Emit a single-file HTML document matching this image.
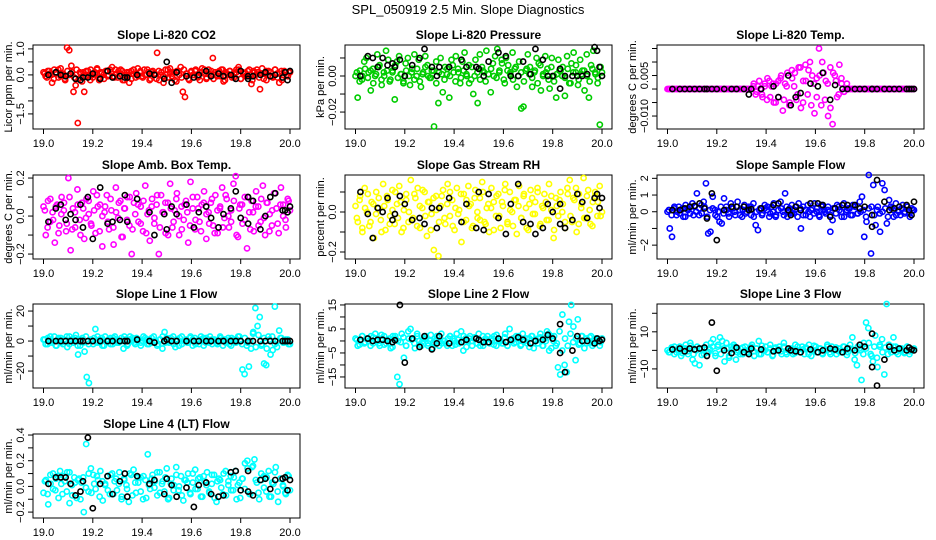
<!DOCTYPE html>
<html><head><meta charset="utf-8">
<style>
body{margin:0;background:#fff;}
svg{display:block;font-family:"Liberation Sans",Arial,sans-serif;}
</style></head>
<body>
<svg id="chart" width="936" height="540" viewBox="0 0 936 540">
<text x="468" y="14" text-anchor="middle" font-size="13">SPL_050919  2.5 Min. Slope Diagnostics</text>
</svg>
<script>
// Shared sampling times of the black (highlighted) points
const blackTimes = [19.02,19.05,19.07,19.09,19.11,19.13,19.15,19.16,19.18,19.2,19.23,19.26,19.28,19.31,19.33,19.34,19.38,19.43,19.45,19.49,19.5,19.52,19.54,19.58,19.61,19.63,19.66,19.68,19.71,19.73,19.76,19.78,19.8,19.83,19.83,19.85,19.88,19.9,19.92,19.94,19.97,19.98,19.99,20.0];
const xTicks = [19.0,19.2,19.4,19.6,19.8,20.0];
const xTickLabels = ["19.0","19.2","19.4","19.6","19.8","20.0"];

const co2Vals = [0.1,-0.05,0.15,0.05,-0.3,0.2,0.1,-0.1,0.25,0,-0.15,1.05,0.95,0.35,-0.65,-0.4,-1.85,0.1,-0.25,-0.65,0.15,0,0.2,-0.1,0.05,0.25,-0.2,0.1,0,0.15,-0.05,0.2,0.3,-0.1,0.05,0.15,0.2,-0.2,0,0.1,-0.3,0.15,0.05,-0.1,0.25,0.1,-0.05,0.2,0,0.1,-0.15,0.15,0.05,0.85,-0.2,0.1,-0.3,0,0.2,0.25,-0.05,0.1,-0.25,0.15,0.3,-0.65,-0.85,0.05,-0.2,0.15,0,0.2,-0.1,0.1,0.25,0.05,-0.15,0.2,0,0.65,0.1,-0.05,0.15,0.2,-0.25,0.1,0,0.15,-0.1,0.05,0.2,0.3,-0.15,0.1,0.05,-0.05,0.2,-0.35,0.15,0,0.1,-0.55,0.25,0.05,-0.2,0.15,0.1,-0.1,0.2,0.05,-0.3,0.15,0,0.1,-0.05,0.1];
const co2Core = [0.05,-0.1,0.15,0,-0.15,0.1,0.2,-0.05,0.05,-0.2,0.15,0,0.1,-0.1,0.2,-0.15,0.05,0.1,-0.05,0.15,-0.2,0,0.1,0.2,-0.1,0.05,-0.15,0.15,0,0.1,-0.05,0.2,-0.1,0.05,0.15,-0.2,0,0.1,-0.15,0.2,0.05,-0.05,0.15,-0.1,0,0.2,-0.2,0.1,0.05,-0.15,0.15,0,-0.05,0.2,-0.1,0.1,0.05,-0.2,0.15,0,-0.1,0.2,0.05,-0.15,0.1,0,0.15,-0.05,-0.2,0.1,0.2,-0.1,0.05,0.15,-0.15,0,0.1,-0.05,0.2,-0.2,0.05,0.15,0,-0.1,0.1,0.2,-0.15,0.05,-0.05,0.15,0,-0.2,0.1,0.2,-0.1,0.05,-0.15,0.15,0,0.1,-0.05,0.2,-0.1,0.05,-0.2,0.15,0,0.1];
const co2Black = [0,0.1,0,-0.05,0.05,-0.15,-0.2,-0.1,-0.1,0.05,-0.15,0.15,-0.1,-0.05,-0.1,-0.1,0,0.05,0,-0.15,0.5,-0.3,0.1,-0.05,-0.1,0,0.15,-0.05,0.05,-0.05,0,-0.15,0.15,-0.05,-0.15,-0.05,0,0.1,-0.05,0,-0.1,0.1,-0.2,0.15];

const presVals = [0,-0.012,0.003,-0.002,0.008,0.01,0.002,-0.008,0.004,0,0.012,0.006,-0.005,0.002,0.014,0.009,-0.002,0.003,-0.013,0.008,0.011,0.001,-0.003,0.007,0.01,-0.005,0.004,0.012,0,0.009,-0.006,0.002,0.011,0.006,-0.001,0.003,-0.028,0.008,-0.015,0.01,-0.009,0.005,0.001,-0.012,0.009,0.002,0.011,0.004,-0.004,0.008,0.013,0,0.006,-0.002,-0.01,0.009,-0.015,0.012,0.005,0.002,0.014,0.001,-0.009,0.007,0.011,0.015,0.003,0.009,-0.002,0.01,0.006,0.002,0.013,0.004,-0.006,0.008,-0.018,-0.017,0.003,0.012,0.005,-0.006,0.002,0.01,0.007,-0.008,0.001,0.011,0.004,-0.007,0.01,0,-0.012,0.009,0.003,0.005,-0.011,0.011,-0.004,0.007,0.013,0.002,-0.005,0.009,0.003,-0.008,0.012,-0.012,0.006,0.014,0.001,-0.004,-0.027,0.002];
const presCore = [0.002,-0.003,0,0.004,-0.001,0.003,-0.004,0.001,0.005,-0.002,0,0.003,-0.003,0.002,0.006,-0.001,0.001,-0.004,0.003,0,0.002,-0.002,0.004,-0.003,0.001,0.005,0,-0.001,0.003,-0.004,0.002,0.001,-0.002,0.004,0,0.006,-0.003,0.002,-0.001,0.003,0.001,-0.004,0.005,0,0.002,-0.002,0.003,-0.003,0.001,0.004,0,-0.001,0.002,0.007,-0.004,0.003,0.001,-0.002,0.005,0,0.002,-0.003,0.004,0.001,-0.001,0.003,-0.004,0.006,0,0.002,-0.002,0.005,-0.003,0.001,0.003,0,-0.001,0.004,-0.004,0.002,0.006,-0.002,0.001,0.003,0,-0.003,0.004,0.002,-0.001,0.005];
const presBlack = [0,0.011,0.01,0.005,0.01,0.006,0.007,0.005,0.009,0,0.006,0.01,0.015,0.005,0,0.005,0.005,0.009,0.005,0.005,0.004,0,0.008,0.013,0.011,0,0,0.008,0.001,0.015,0.009,0,0,0.004,-0.007,0,0,0,0,0.001,0.016,0.014,0.005,0];

const tempVals = [0,0,0,0,0,0,0,0,0,0,0,0,0,0,0,0,0,0,0,0,0,0,0,0,0,0,0,0,0,0,0,0,0,0,0,0,0,0,
0.001,-0.002,0.001,0,-0.003,0.002,-0.004,0.003,0.001,-0.005,0.002,-0.003,0.004,-0.008,0.002,0.006,-0.005,0.007,0.001,-0.004,0.008,-0.007,0.003,0.009,-0.002,0.01,0.005,-0.009,0.004,0.015,-0.006,0.006,0.003,-0.01,0.008,-0.013,0.005,-0.003,0.009,0.002,-0.001,
0,0,0,0,0,0,0,0,0,0,0,0,0,0,0,0,0,0,0,0,0,0,0,0,0,0,0,0,0,0,0];
const tempCore = [0,0,0,0,0,0,0,0,0,0,0,0,0,0,0,0,0,0,0,0,0,0,0,0,0,0,0,0,0,0,0,
0.002,-0.001,0.003,-0.002,0.001,0.004,-0.003,0.002,-0.005,0.003,0.005,-0.004,0.001,-0.006,0.004,0.006,-0.002,0.008,-0.005,0.003,0.007,-0.006,0.002,-0.003,0.005,0.01,-0.004,0.002,-0.007,0.006,0.003,-0.002,0.004,-0.001,0.002,
0,0,0,0,0,0,0,0,0,0,0,0,0,0,0,0,0,0,0,0,0,0,0,0];
const tempBlack = [0,0,0,0,0,0,0,0,0,0,0,0,0,0,-0.002,0,0,0.001,-0.003,0.005,-0.006,-0.003,-0.0015,0.002,0.001,0.006,-0.004,0.0015,0,0,0,0,0,0,0,0,0,0,0,0,0,0,0,0];

const ambVals = [0.05,-0.1,0.08,-0.03,0.02,-0.14,0.06,-0.05,0.1,0.03,-0.08,0.2,-0.18,0.04,-0.06,0.14,-0.02,0.07,-0.12,0.09,0.01,-0.04,0.13,-0.09,0.05,0.06,-0.16,0.02,0.11,-0.07,0.03,-0.15,0.15,-0.01,0.08,-0.11,0.04,0.1,-0.05,-0.2,0.07,0.12,-0.03,0.05,-0.08,0.16,0.01,-0.13,0.09,-0.04,0.06,-0.2,0.11,0.02,-0.09,0.07,0.17,-0.06,0.03,0.12,-0.1,0.05,-0.02,0.08,-0.14,0.18,0.04,-0.07,0.1,-0.03,0.06,0.13,-0.12,0.02,0.07,-0.05,0.11,-0.09,0.04,0.15,-0.01,0.09,-0.06,0.03,0.17,0.21,-0.11,0.06,-0.04,0.1,-0.17,0.02,0.08,-0.08,0.13,0.05,-0.03,0.16,-0.1,0.07,0.01,-0.05,0.12,0.04,-0.09,0.15,0.06,-0.02,0.09,0.03];
const ambCore = [0.03,-0.06,0.09,-0.02,0.05,-0.09,0.01,0.07,-0.04,0.1,-0.07,0.02,0.06,-0.1,0.04,-0.01,0.08,-0.05,0.03,0.11,-0.08,0,0.05,-0.03,0.09,-0.06,0.02,0.07,-0.11,0.04,-0.02,0.1,-0.07,0.01,0.06,-0.04,0.08,-0.09,0.03,0.05,-0.01,0.11,-0.06,0.02,0.07,-0.1,0.04,-0.03,0.09,0,-0.07,0.06,0.02,-0.05,0.1,-0.02,0.04,-0.08,0.07,0.01,-0.04,0.09,-0.09,0.03,0.05,-0.06,0.11,0,-0.03,0.08,-0.1,0.04,0.06,-0.02,0.1,-0.07,0.02,0.05,-0.05,0.09,-0.01,0.07,-0.08,0.03,0.12,-0.04,0.06,0,-0.06,0.08];
const ambBlack = [-0.03,0.04,0.06,-0.02,0.01,-0.02,0.06,-0.06,0.1,-0.12,0.15,-0.04,-0.03,-0.02,0.11,-0.03,0.09,0.02,-0.1,0.01,-0.07,0.05,0.01,0.06,-0.06,0.02,0.05,-0.01,-0.06,0.01,0.04,0.13,-0.01,0.1,-0.04,0.08,-0.07,0,0.1,0.12,0.03,0.03,0.02,0.05];

const rhVals = [0.03,-0.05,0.08,-0.1,0.12,0,-0.07,0.05,-0.13,0.1,0.02,-0.04,0.14,-0.09,0.06,-0.02,0.11,-0.06,0.04,0.13,-0.1,0.01,0.09,-0.05,0.16,-0.03,0.07,0.12,-0.08,0.02,0.1,-0.12,0.05,-0.01,-0.19,0.08,-0.22,0.03,0.11,-0.06,0.14,-0.02,0.06,-0.09,0.12,0.01,-0.15,0.09,-0.04,0.13,0.04,-0.07,0.11,-0.03,0.07,0.15,-0.05,0.02,-0.1,0.12,0.05,-0.02,0.09,-0.08,0.03,0.14,-0.06,0.1,0,0.06,-0.11,0.13,-0.03,0.08,0.02,-0.09,0.11,-0.01,0.05,0.12,-0.07,0.03,0.09,-0.04,0.14,0.01,-0.13,0.07,-0.02,0.1,0.04,-0.08,0.12,0.16,-0.05,0.06,-0.1,0.09,0.02,0.17,-0.03,0.11,-0.06,0.05,0.08,-0.02,0.13,0];
const rhCore = [-0.03,0.06,-0.08,0.02,0.09,-0.05,0.04,-0.01,0.07,-0.1,0.03,0.08,-0.06,0.01,0.1,-0.03,0.05,-0.08,0.06,0,-0.04,0.09,-0.07,0.03,0.11,-0.02,0.05,-0.09,0.07,0.01,-0.05,0.08,-0.03,0.04,0.1,-0.07,0.02,-0.01,0.09,-0.05,0.06,0.03,-0.08,0.07,0,-0.04,0.1,-0.06,0.04,0.02,-0.09,0.08,-0.02,0.05,0.11,-0.05,0.01,-0.07,0.06,0.03,-0.03,0.09,-0.08,0.04,0.07,-0.01,0.1,-0.06,0.02,0.05,-0.04,0.08,-0.09,0.03,0.06,0,-0.05,0.09,-0.02,0.07,0.12,-0.06,0.04,-0.03,0.08,0.01,-0.07,0.1,0.05,-0.02];
const rhBlack = [0.1,-0.01,-0.13,0.02,0,0.07,-0.04,-0.01,0.08,0.04,-0.04,-0.03,-0.06,0.02,-0.08,0.02,0.07,-0.05,0.04,-0.08,0.1,-0.09,0.09,-0.03,-0.11,0.04,0.14,-0.05,-0.06,-0.11,-0.08,0.04,0,0.04,-0.06,-0.08,-0.04,0.09,0.05,-0.03,0.07,0.09,0.02,0.07];

const sampleVals = [0,-1,-1.5,0.2,-0.2,0.3,0.1,-0.3,0.4,0.2,-0.1,0.5,0.3,1.1,-0.2,0.4,0.6,1.7,-1.3,-1.2,0.9,0.1,-0.3,-0.6,-0.7,0.8,0.3,-0.1,0.5,0.2,-0.2,0.6,0.1,-0.3,0.4,0,0.3,-0.2,0.5,-0.8,-1.1,0.2,-0.1,0.4,0.1,-0.3,0.3,0.5,-0.2,0.1,0.6,0,1.1,-0.3,0.2,0.4,-0.1,0.3,0.5,-1,-0.2,0.1,0.4,-0.3,0.2,0.5,0,-0.2,0.4,0.1,-0.1,0.3,-1.2,-0.5,0.2,0.4,0.1,-0.3,0.5,0,0.2,-0.2,0.4,0.3,-0.1,0.6,0.9,-1.5,-0.6,2.2,-2.5,1.6,-0.8,0.3,-1.2,1.7,1.3,-0.7,0.7,0.2,-0.3,0.5,0.1,-0.2,0.4,0,0.3,-0.1,0.2,0.1];
const sampleCore = [0.1,-0.2,0.3,0,-0.1,0.2,-0.3,0.1,0.3,-0.2,0,0.2,-0.1,0.3,-0.3,0.1,0.2,-0.2,0,0.3,-0.1,0.1,-0.3,0.2,0,0.3,-0.2,0.1,-0.1,0.2,0.3,-0.3,0,0.1,-0.2,0.2,0.3,-0.1,0,-0.3,0.1,0.2,-0.2,0.3,0,-0.1,0.1,-0.3,0.2,0.3,-0.2,0,0.1,-0.1,0.2,-0.3,0.3,0,0.1,-0.2,0.2,-0.1,0.3,0,-0.3,0.1,0.2,-0.2,0.3,-0.1,0,0.1,-0.3,0.2,0.3,-0.2,0.1,-0.1,0,0.2,-0.3,0.3,0.1,-0.2,0,0.2,-0.1,0.3,-0.3,0.1];
const sampleBlack = [0.1,0.1,0.2,0.3,0.35,0.5,0.2,-0.4,1.1,-1.7,0.1,0.3,0.3,0.3,0.1,0.15,0.2,0.4,0.5,0.1,-0.2,0.3,0.1,0.5,0.5,0.4,-0.3,0.2,0.4,0.4,0.4,0.2,0.3,-0.9,-0.2,1.9,0.6,0.1,0.2,0.3,0.4,0.1,-0.2,0.6];

const line1Vals = [1,-2,2,0,-1,3,-3,1,2,-2,0,-4,3,1,-1,4,-9,-3,2,-7,-24,-28,1,-2,8,3,-1,2,-3,0,1,2,-2,3,-1,0,2,-5,1,-2,3,0,-1,2,1,-3,0,2,-2,1,-1,3,0,-2,1,-5,6,2,-1,0,3,-4,1,2,-2,0,1,-1,3,-3,2,0,-2,1,2,-1,0,3,-2,1,-1,0,2,-3,1,0,-2,2,1,-1,3,0,-19,-22,-3,-17,-5,6,22,10,16,-2,-15,-16,3,-9,-6,23,-4,7,2,-1,0,1,-2];
const line1Core = [1,-2,3,0,-3,2,-1,1,3,-2,0,2,-3,1,-1,3,-2,0,2,-1,1,-3,3,0,-2,2,1,-1,0,3,-3,1,2,-2,0,-1,3,1,-2,2,0,-3,1,3,-1,0,2,-2,1,-3,3,0,-1,2,1,-2,0,3,-3,2,-1,1,0,-2,3,1,-1,2,-3,0,1,3,-2,2,-1,0,5,-4,4,-3,2,-5,1,3,-2,0,2,-1,1,-2];
const line1Black = [0,0,0,0,0,0,0,0,0,0,0,0,0,0,0,0,1,0,-1,0,1,0,0,0,0,0,0,0,0,0,0,0,0,0,0,0,0,0,0,0,0,0,0,0];

const line2Vals = [1,-2,0,2,-1,1,0,2,-1,3,0,-2,1,2,-1,0,-3,2,1,-15,-18,3,-7,-2,4,5,1,-3,3,0,-2,1,2,-1,0,-3,1,2,-2,3,0,-1,1,2,-2,0,3,-1,4,-4,1,0,2,-2,1,-1,3,0,-2,1,2,-1,0,2,-2,1,0,-1,3,-2,5,0,-1,2,1,-2,3,0,-1,1,2,-3,0,1,3,-2,1,4,-4,2,0,-2,-11,-14,11,-10,-13,8,15,6,-8,9,-1,2,-3,1,0,2,-1,1,0,-2,1];
const line2Core = [0.5,-1.5,2,-0.5,1,-2,1.5,0,-1,2.5,-1.5,0.5,1,-2.5,2,0,-0.5,1.5,-2,1,0.5,-1,2,-1.5,0,1,-2,2.5,-0.5,0.5,1.5,-1,0,-2,2,1,-1.5,0.5,-0.5,2,-2.5,1,0,1.5,-1,-2,2,0.5,-0.5,1,-1.5,2.5,0,-1,1.5,-2,0.5,1,-0.5,2,-1.5,0,1,-2.5,2,0.5,-1,1.5,-2,0,3,-3,2,-1,4,-4,1,-2,3,-0.5,1,-1.5,2,0,-1,1.5,-2,0.5,1,-0.5];
const line2Black = [0.5,1,0,0.5,0.5,0,-0.5,0.3,15,-9,1,-2.5,2,-3.5,-1,2,-1,-0.5,0.5,1,0.5,-0.5,-0.5,1,-0.5,0.5,1.5,0.5,-1,0,0.5,2.5,1,7,-5,-13,-4,2,0,0,-1,1,0,0.5];

const line3Vals = [0,-1,1,2,-1,0,-3,1,3,-2,4,-5,-7,2,-8,1,-2,3,-1,4,6,-3,2,7,5,-6,1,-4,2,3,-5,0,1,-2,2,-1,0,3,-3,1,5,-2,0,2,-1,3,-3,1,0,2,-2,4,-1,0,1,-2,3,0,-1,2,-2,1,3,-3,0,2,-1,1,-2,0,3,-1,2,0,-2,1,-1,2,0,-1,3,7,-5,-8,1,-16,4,15,12,-2,-6,8,-9,2,6,-13,25,3,-1,7,2,-2,1,0,-1,2,-2,0,1];
const line3Core = [-1,1.5,-2,0.5,2,-1.5,1,-0.5,2.5,-2,0,1,-2.5,1.5,-1,0.5,2,-1.5,3,-2,1,4,-3,0.5,2,-1,-2,1.5,0,-1.5,2,-0.5,1,-2,2.5,0,-1,1,-2.5,1.5,0.5,-0.5,2,-2,1,0,-1.5,2,-1,0.5,1.5,-2,0,2.5,-1,1,-1.5,0.5,2,-2,0,1.5,-0.5,-1,2,-2.5,1,0.5,-1.5,2,0,-2,1,4,-3,2,-4,3,-1,1.5,-2,0.5,2,-1,0,1,-1.5,2,-0.5,0.5];
const line3Black = [0.5,1,-0.5,1,0.5,1,1.5,-3,15,-11,0,-1.5,1.5,-1,-2,1,0.5,-0.5,0,1,0,-0.5,-1,0.5,-1,0,1,0.5,-1,1,0,3,2,9,-9,-19,-5,2,0,1,0,1.5,0.5,0];

const line4Vals = [-0.05,0.05,-0.14,0.02,0.1,-0.03,0.08,0.12,-0.06,0.04,0.11,-0.13,0.01,0.07,-0.09,0.06,0.03,-0.2,0.33,-0.04,0.14,0.09,-0.02,0.05,0.12,-0.11,0.02,0.08,-0.06,0.1,0.04,-0.03,0.11,-0.08,0.06,0.01,-0.12,0.09,0.13,-0.05,0.03,0.07,-0.1,0.05,0.25,-0.02,0.09,0.04,-0.07,0.11,0.02,-0.04,0.14,-0.09,0.06,0.01,0.15,-0.03,0.08,-0.11,0.05,0.1,-0.06,0.03,0.13,-0.02,0.07,-0.08,0.04,0.11,-0.05,0.02,0.09,-0.12,0.06,-0.01,0.1,-0.07,0.04,0.08,-0.03,0.12,0.01,-0.09,0.06,0.18,0.2,-0.06,0.15,0.21,0.03,-0.1,0.05,0.08,-0.04,0.12,-0.08,0.02,0.15,-0.12,0.06,0.01,-0.05,0.09,-0.03];
const line4Core = [0.04,-0.06,0.09,-0.02,0.06,-0.09,0.02,0.08,-0.04,0.11,-0.07,0.03,0.05,-0.1,0.07,-0.01,0.1,-0.05,0.02,0.08,-0.08,0.04,0.01,-0.03,0.09,-0.06,0.06,0.02,-0.1,0.05,-0.02,0.1,-0.07,0.03,0.07,-0.04,0.08,-0.09,0.01,0.06,-0.01,0.11,-0.05,0.04,0.07,-0.1,0.02,-0.03,0.09,0,-0.07,0.05,0.03,-0.05,0.1,-0.02,0.06,-0.08,0.08,0.01,-0.04,0.09,-0.09,0.04,0.05,-0.06,0.12,0.01,-0.03,0.07,-0.1,0.03,0.06,-0.02,0.14,-0.06,0.16,0.05,-0.05,0.1,-0.01,0.07,-0.08,0.03,0.11,-0.04,0.06,0,-0.06,0.08];
const line4Black = [0.02,0.07,0.07,0.07,0.02,-0.07,-0.04,0.04,0.38,-0.17,0.02,0.08,-0.06,0.04,0.1,-0.08,0.08,0.02,0.05,-0.06,0.06,0.01,-0.08,-0.01,-0.16,0.01,0.03,-0.06,-0.08,-0.07,0.11,0.12,-0.03,0.12,-0.04,-0.07,0.05,0.06,-0.02,0.05,0.06,0.07,-0.03,0.05];

const panels = [
 {name:"co2",title:"Slope Li-820 CO2",ylab:"Licor ppm per min.",col:0,row:0,color:"#ff0000",vals:co2Vals,core:co2Core,black:co2Black,ymin:-2.08,ymax:1.15,ticks:[1,0.5,0,-0.5,-1,-1.5],labels:{"1":"1.0","0":"0.0","-1.5":"-1.5"}},
 {name:"pressure",title:"Slope Li-820 Pressure",ylab:"kPa per min.",col:1,row:0,color:"#00cc00",vals:presVals,core:presCore,black:presBlack,ymin:-0.0294,ymax:0.0172,ticks:[0.01,0,-0.01,-0.02],labels:{"0":"0.00","-0.02":"-0.02"}},
 {name:"temp",title:"Slope Li-820 Temp.",ylab:"degrees C per min.",col:2,row:0,color:"#ff00ff",vals:tempVals,core:tempCore,black:tempBlack,ymin:-0.0148,ymax:0.0163,ticks:[0.015,0.01,0.005,0,-0.005,-0.01],labels:{"0.005":"0.005","-0.01":"-0.010"}},
 {name:"amb-box-temp",title:"Slope Amb. Box Temp.",ylab:"degrees C per min.",col:0,row:1,color:"#ff00ff",vals:ambVals,core:ambCore,black:ambBlack,ymin:-0.226,ymax:0.216,ticks:[0.2,0.1,0,-0.1,-0.2],labels:{"0.2":"0.2","0":"0.0","-0.2":"-0.2"}},
 {name:"gas-rh",title:"Slope Gas Stream RH",ylab:"percent per min.",col:1,row:1,color:"#ffff00",vals:rhVals,core:rhCore,black:rhBlack,ymin:-0.235,ymax:0.185,ticks:[0.1,0,-0.1,-0.2],labels:{"0":"0.0","-0.2":"-0.2"}},
 {name:"sample-flow",title:"Slope Sample Flow",ylab:"ml/min per min.",col:2,row:1,color:"#0000ff",vals:sampleVals,core:sampleCore,black:sampleBlack,ymin:-2.83,ymax:2.2,ticks:[2,1,0,-1,-2],labels:{"2":"2","1":"1","0":"0","-2":"-2"}},
 {name:"line1-flow",title:"Slope Line 1 Flow",ylab:"ml/min per min.",col:0,row:2,color:"#00ffff",vals:line1Vals,core:line1Core,black:line1Black,ymin:-31.3,ymax:24.7,ticks:[20,10,0,-10,-20],labels:{"20":"20","0":"0","-20":"-20"}},
 {name:"line2-flow",title:"Slope Line 2 Flow",ylab:"ml/min per min.",col:1,row:2,color:"#00ffff",vals:line2Vals,core:line2Core,black:line2Black,ymin:-19.6,ymax:15.4,ticks:[15,10,5,0,-5,-10,-15],labels:{"15":"15","5":"5","-5":"-5","-15":"-15"}},
 {name:"line3-flow",title:"Slope Line 3 Flow",ylab:"ml/min per min.",col:2,row:2,color:"#00ffff",vals:line3Vals,core:line3Core,black:line3Black,ymin:-20.3,ymax:25,ticks:[20,10,0,-10],labels:{"10":"10","-10":"-10"}},
 {name:"line4-flow",title:"Slope Line 4 (LT) Flow",ylab:"ml/min per min.",col:0,row:3,color:"#00ffff",vals:line4Vals,core:line4Core,black:line4Black,ymin:-0.246,ymax:0.408,ticks:[0.4,0.3,0.2,0.1,0,-0.1,-0.2],labels:{"0.4":"0.4","0.2":"0.2","0":"0.0","-0.2":"-0.2"}}
];

const NS = "http://www.w3.org/2000/svg";
const svg = document.getElementById("chart");
const rowTops = [45,175,304,434];
const BOX_H = 84;
function mk(tag, attrs, parent){
  const e = document.createElementNS(NS, tag);
  for (const k in attrs) e.setAttribute(k, attrs[k]);
  parent.appendChild(e);
  return e;
}

panels.forEach(p => {
  const off = p.col * 312;
  const left = 33 + off, right = 300 + off;
  const top = rowTops[p.row], bottom = top + BOX_H;
  const xScale = v => 43.5 + off + (v - 19) * 246.5;
  const yScale = v => top + (p.ymax - v) / (p.ymax - p.ymin) * BOX_H;

  const g = mk("g", {}, svg);
  
  

  const t = mk("text", {x:(left+right)/2, y:top-6, "text-anchor":"middle", "font-size":"12", "font-weight":"bold"}, g);
  t.textContent = p.title;
  
  

  const box = mk("rect", {x:left, y:top, width:right-left, height:BOX_H, fill:"none", stroke:"#000", "stroke-width":"1"}, g);
  
  

  const xa = mk("g", {}, g);
  
  
  mk("line", {x1:xScale(19), x2:xScale(20), y1:bottom, y2:bottom, stroke:"#000"}, xa);
  xTicks.forEach((v, i) => {
    mk("line", {x1:xScale(v), x2:xScale(v), y1:bottom, y2:bottom+5, stroke:"#000"}, xa);
    const tl = mk("text", {x:xScale(v), y:bottom+18, "text-anchor":"middle", "font-size":"11"}, xa);
    tl.textContent = xTickLabels[i];
    
    
  });

  const ya = mk("g", {}, g);
  
  
  const tv = p.ticks;
  mk("line", {x1:left, x2:left, y1:yScale(tv[0]), y2:yScale(tv[tv.length-1]), stroke:"#000"}, ya);
  tv.forEach(v => {
    const y = yScale(v);
    mk("line", {x1:left-5, x2:left, y1:y, y2:y, stroke:"#000"}, ya);
    const lab = p.labels[String(v)];
    if (lab !== undefined) {
      const tl = mk("text", {x:0, y:0, transform:`translate(${left-9},${y}) rotate(-90)`, "text-anchor":"middle", "font-size":"11"}, ya);
      tl.textContent = lab.replace("-", "\u2212");
      
      
    }
  });
  const yl = mk("text", {x:0, y:0, transform:`translate(${off+12},${(top+bottom)/2}) rotate(-90)`, "text-anchor":"middle", "font-size":"11"}, g);
  yl.textContent = p.ylab;
  
  

  const cs = mk("g", {fill:"none", stroke:p.color, "stroke-width":"1.6"}, g);
  
  
  const nc = p.core.length;
  p.core.forEach((v, i) => {
    const c = mk("circle", {cx:xScale(19 + (i+0.5)/nc), cy:yScale(v), r:2.6}, cs);
    
    
  });
  const n = p.vals.length;
  p.vals.forEach((v, i) => {
    const c = mk("circle", {cx:xScale(19 + i/(n-1)), cy:yScale(v), r:2.6}, cs);
    
    
  });
  const bs = mk("g", {fill:"none", stroke:"#000", "stroke-width":"1.6"}, g);
  
  
  const m = Math.min(blackTimes.length, p.black.length);
  for (let i = 0; i < m; i++) {
    const c = mk("circle", {cx:xScale(blackTimes[i]), cy:yScale(p.black[i]), r:2.6}, bs);
    
    
  }
});
</script>
</body></html>
